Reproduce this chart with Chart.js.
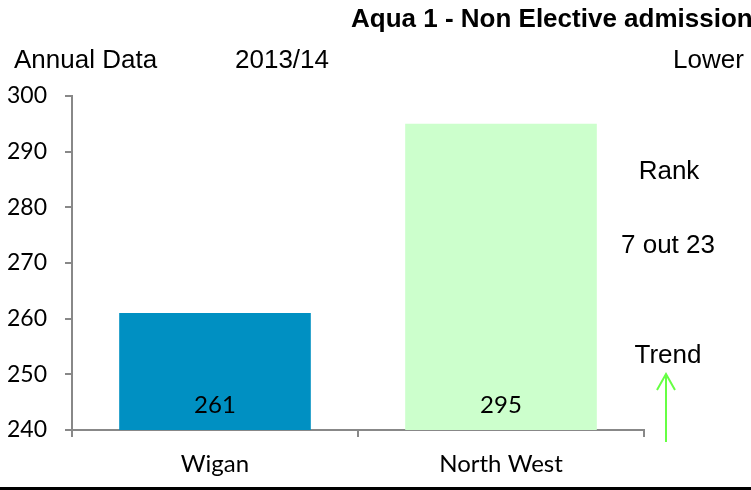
<!DOCTYPE html>
<html lang="en">
<head>
  <meta charset="UTF-8" />
  <title>Aqua 1 - Non Elective admissions</title>
  <script src="https://cdn.jsdelivr.net/npm/chart.js"></script>
  <style>
    html, body { margin: 0; padding: 0; background: #fff; }
    canvas { display: block; }
  </style>
</head>
<body>
  <canvas id="chart" width="751" height="490"></canvas>

  <script>
    // data
    const categories = ['Wigan', 'North West'];
    const values = [261, 295];
    const barColors = ['#0090C2', '#CCFFCC'];
    const yMin = 240;
    const yMax = 300;
    const yStep = 10;

    const titleText = 'Aqua 1 - Non Elective admissions';
    const periodLabel = 'Annual Data';
    const periodValue = '2013/14';
    const directionText = 'Lower';
    const rankLabel = 'Rank';
    const rankText = '7 out 23';
    const trendLabel = 'Trend';

    const arialFont = '"Liberation Sans", Arial, sans-serif';
    const axisFont = 'Lato, "Open Sans", sans-serif';

    // text, arrow and frame drawn around the chart
    const extras = {
      id: 'extras',
      afterDraw(chart) {
        const ctx = chart.ctx;
        ctx.save();
        ctx.fillStyle = '#000';
        ctx.textBaseline = 'alphabetic';
        ctx.textAlign = 'left';

        ctx.font = 'bold 26px ' + arialFont;
        ctx.fillText(titleText, 351, 27);

        ctx.font = '26px ' + arialFont;
        ctx.fillText(periodLabel, 14, 68);
        ctx.fillText(periodValue, 235, 68);
        ctx.fillText(directionText, 673, 68);

        ctx.textAlign = 'center';
        ctx.fillText(rankLabel, 669, 179);
        ctx.fillText(rankText, 668, 253);
        ctx.fillText(trendLabel, 668, 363);

        // trend arrow
        ctx.strokeStyle = '#66FF44';
        ctx.lineWidth = 2;
        ctx.beginPath();
        ctx.moveTo(666, 442);
        ctx.lineTo(666, 374);
        ctx.moveTo(657, 390);
        ctx.lineTo(666, 374);
        ctx.lineTo(675, 390);
        ctx.stroke();

        // bottom rule
        ctx.fillStyle = '#000';
        ctx.fillRect(0, 487, chart.width, 3);

        // value labels inside the bars
        const meta = chart.getDatasetMeta(0);
        const yScale = chart.scales.y;
        ctx.font = '24px ' + axisFont;
        ctx.textBaseline = 'middle';
        ctx.fillStyle = '#000';
        meta.data.forEach((bar, i) => {
          ctx.fillText(String(values[i]), bar.x, yScale.bottom - 25);
        });
        ctx.restore();
      }
    };

    new Chart(document.getElementById('chart'), {
      type: 'bar',
      data: {
        labels: categories,
        datasets: [{
          data: values,
          backgroundColor: barColors,
          borderWidth: 0,
          barPercentage: 0.67,
          categoryPercentage: 1
        }]
      },
      options: {
        responsive: false,
        animation: false,
        layout: { padding: { top: 96, right: 107, left: 0, bottom: 0 } },
        plugins: {
          legend: { display: false },
          tooltip: { enabled: false }
        },
        scales: {
          x: {
            afterFit(scale) { scale.height = 60; },
            grid: {
              drawOnChartArea: false,
              drawTicks: true,
              tickLength: 7,
              color: '#888',
              lineWidth: 2
            },
            border: { display: true, color: '#888', width: 2 },
            ticks: {
              color: '#000',
              padding: 13,
              font: { family: axisFont, size: 24 }
            }
          },
          y: {
            min: yMin,
            max: yMax,
            afterFit(scale) { scale.width = 72; },
            grid: {
              drawOnChartArea: false,
              drawTicks: true,
              tickLength: 7,
              color: '#888',
              lineWidth: 2
            },
            border: { display: true, color: '#888', width: 2 },
            ticks: {
              stepSize: yStep,
              color: '#000',
              padding: 18,
              font: { family: axisFont, size: 23 }
            }
          }
        }
      },
      plugins: [extras]
    });
  </script>
</body>
</html>
